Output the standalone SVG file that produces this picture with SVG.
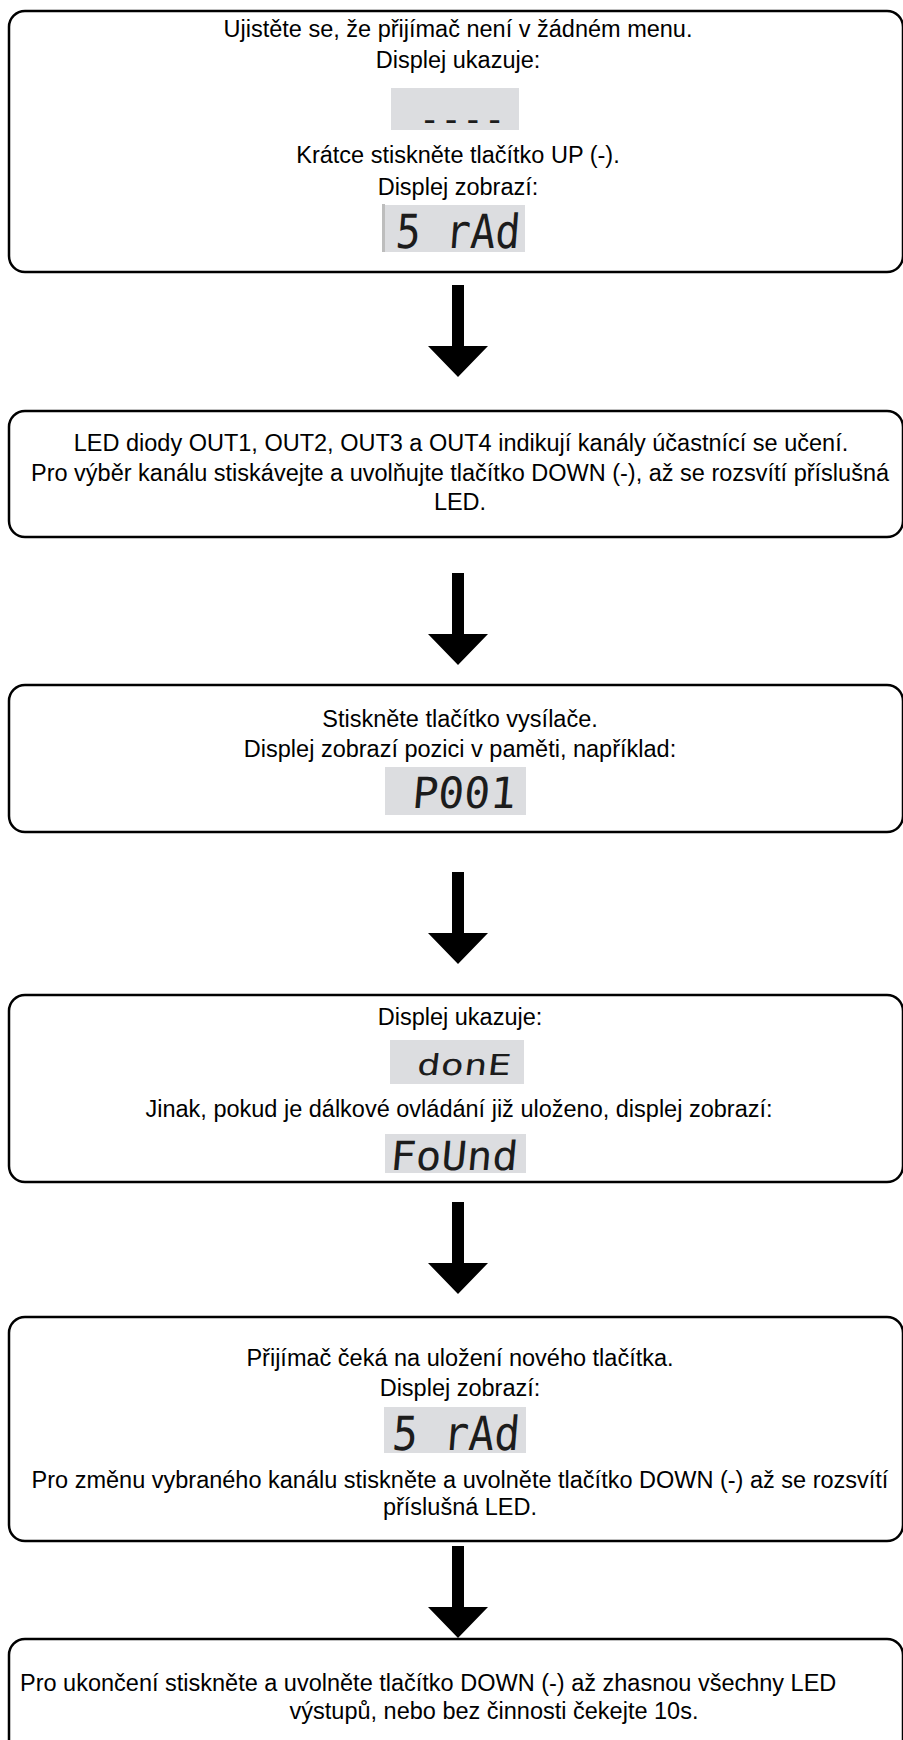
<svg xmlns="http://www.w3.org/2000/svg" width="903" height="1740" viewBox="0 0 903 1740">
<style>
.box{fill:#ffffff;stroke:#000000;stroke-width:2.5}
.t{font-family:"Liberation Sans",Arial,sans-serif;font-size:23.5px;fill:#000000;text-anchor:middle}
.ts{font-family:"Liberation Sans",Arial,sans-serif;font-size:23.5px;fill:#000000}
.lcdbg{fill:#dcdde0}
.lcd{font-family:"DejaVu Sans Mono",monospace;fill:#1c1c1c;text-anchor:middle}
.arr{fill:#000000}
</style>
<defs>
<path id="arrow" class="arr" d="M-6,0 H6 V61 H30 L0,92 L-30,61 H-6 Z"/>
</defs>
<rect width="903" height="1740" fill="#ffffff"/>

<g id="connectors">
<use href="#arrow" x="458" y="285"/>
<use href="#arrow" x="458" y="573"/>
<use href="#arrow" x="458" y="872"/>
<use href="#arrow" x="458" y="1202"/>
<use href="#arrow" x="458" y="1546"/>
</g>

<g id="step1">
<rect class="box" x="9" y="11" width="894" height="261" rx="16"/>
<text class="t" x="458" y="37">Ujistěte se, že přijímač není v žádném menu.</text>
<text class="t" x="458" y="68">Displej ukazuje:</text>
<rect class="lcdbg" x="391" y="88" width="128" height="42"/>
<text class="lcd" font-size="36" x="462" y="131">----</text>
<text class="t" x="458" y="163">Krátce stiskněte tlačítko UP (-).</text>
<text class="t" x="458" y="195">Displej zobrazí:</text>
<rect class="lcdbg" x="382" y="205" width="143" height="47"/>
<rect x="382" y="204" width="3" height="48" fill="#bdbdbd"/>
<text class="lcd" font-size="47" transform="translate(457,248) scale(0.88,1) skewX(-5)">5 rAd</text>
</g>

<g id="step2">
<rect class="box" x="9" y="411" width="894" height="126" rx="16"/>
<text class="t" x="461" y="451">LED diody OUT1, OUT2, OUT3 a OUT4 indikují kanály účastnící se učení.</text>
<text class="t" x="460" y="481">Pro výběr kanálu stiskávejte a uvolňujte tlačítko DOWN (-), až se rozsvítí příslušná</text>
<text class="t" x="460" y="510">LED.</text>
</g>

<g id="step3">
<rect class="box" x="9" y="685" width="894" height="147" rx="16"/>
<text class="t" x="460" y="727">Stiskněte tlačítko vysílače.</text>
<text class="t" x="460" y="757">Displej zobrazí pozici v paměti, například:</text>
<rect class="lcdbg" x="385" y="767" width="141" height="48"/>
<text class="lcd" font-size="43" transform="translate(463,808) skewX(-5)">P001</text>
</g>

<g id="step4">
<rect class="box" x="9" y="995" width="894" height="187" rx="16"/>
<text class="t" x="460" y="1025">Displej ukazuje:</text>
<rect class="lcdbg" x="390" y="1040" width="134" height="44"/>
<text class="lcd" font-size="34" transform="translate(463,1075) scale(1.15,0.85) skewX(-5)">donE</text>
<text class="t" x="459" y="1117">Jinak, pokud je dálkové ovládání již uloženo, displej zobrazí:</text>
<rect class="lcdbg" x="385" y="1134" width="141" height="39"/>
<text class="lcd" font-size="40" transform="translate(453,1170) scale(1.06,1) skewX(-5)">FoUnd</text>
</g>

<g id="step5">
<rect class="box" x="9" y="1317" width="894" height="224" rx="16"/>
<text class="t" x="460" y="1366">Přijímač čeká na uložení nového tlačítka.</text>
<text class="t" x="460" y="1396">Displej zobrazí:</text>
<rect class="lcdbg" x="384" y="1407" width="142" height="46"/>
<text class="lcd" font-size="47" transform="translate(455,1450) scale(0.9,1) skewX(-5)">5 rAd</text>
<text class="t" x="460" y="1488">Pro změnu vybraného kanálu stiskněte a uvolněte tlačítko DOWN (-) až se rozsvítí</text>
<text class="t" x="460" y="1515">příslušná LED.</text>
</g>

<g id="step6">
<rect class="box" x="9" y="1639" width="894" height="140" rx="16"/>
<text class="ts" x="20" y="1691">Pro ukončení stiskněte a uvolněte tlačítko DOWN (-) až zhasnou všechny LED</text>
<text class="t" x="494" y="1719">výstupů, nebo bez činnosti čekejte 10s.</text>
</g>
</svg>
